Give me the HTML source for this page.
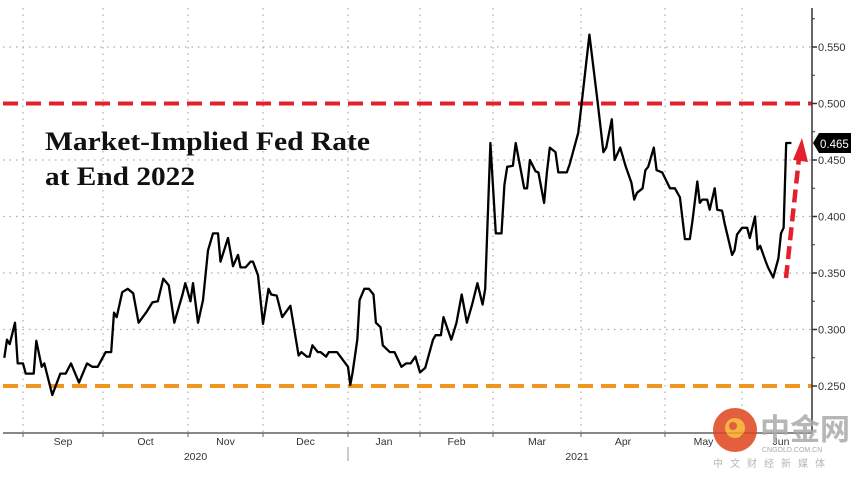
<!DOCTYPE html>
<html><head><meta charset="utf-8"><style>
html,body{margin:0;padding:0;background:#fff;}
svg{display:block;font-family:"Liberation Sans",sans-serif;}
</style></head><body>
<svg id="chart" width="866" height="479" viewBox="0 0 866 479" xmlns="http://www.w3.org/2000/svg">
<g id="grid"></g>
<g id="refs"></g>
<g id="series"></g>
<g id="axes"></g>
<text x="45" y="150" font-family="Liberation Serif,serif" font-weight="bold" font-size="26" textLength="325" lengthAdjust="spacingAndGlyphs" fill="#111">Market-Implied Fed Rate</text>
<text x="45" y="185" font-family="Liberation Serif,serif" font-weight="bold" font-size="26" textLength="150" lengthAdjust="spacingAndGlyphs" fill="#111">at End 2022</text>
<g>
<path d="M813,143 L819,133 L851,133 L851,153 L819,153 Z" fill="#000"/>
<text x="820" y="148" font-size="11.5" fill="#fff">0.465</text>
</g>
<g opacity="0.85">
<circle cx="735" cy="430" r="22" fill="#e0441c"/>
<circle cx="735" cy="428" r="10" fill="#f7a623"/>
<circle cx="733" cy="426" r="4" fill="#e0441c"/>
<text x="760" y="440" font-family="'Noto Sans CJK SC',sans-serif" font-size="30" font-weight="bold" fill="#aaa">中金网</text>
<text x="762" y="452" font-size="7" fill="#999">CNGOLD.COM.CN</text>
<text x="713" y="467" font-family="'Noto Sans CJK SC',sans-serif" font-size="10" fill="#aaa" letter-spacing="7">中文财经新媒体</text>
</g>
</svg>
<script>
const days=[-7,-6,-5,-3,-2,0,1,4,5,7,8,11,14,16,18,21,24,26,28,31,33,34,35,37,39,41,43,46,48,50,52,54,56,59,60,62,63,65,67,69,71,73,74,77,79,81,82,84,86,87,89,91,93,94,96,98,101,104,105,107,108,109,111,112,114,115,118,122,123,124,126,127,129,131,133,134,136,137,140,142,145,147,149,151,153,155,158,159,161,162,165,167,169,171,173,175,177,178,180,182,184,185,186,188,189,192,193,194,196,197,199,200,201,203,204,207,208,211,212,215,218,220,221,223,224,226,228,230,231,232,234,235,236,238,239,241,244,246,248,250,252,253,255,256,257,259,260,262,263,265,266,269,270,271,273,275,276,278,279,280,282,283,285,287,288,289,290,292];
const values=[.275,.291,.287,.306,.270,.270,.261,.261,.290,.267,.270,.242,.261,.261,.270,.253,.270,.267,.267,.280,.280,.315,.311,.333,.336,.332,.306,.316,.324,.325,.345,.339,.306,.331,.341,.325,.341,.306,.326,.370,.385,.385,.360,.381,.356,.366,.355,.355,.360,.360,.348,.305,.336,.331,.330,.311,.321,.277,.280,.276,.276,.286,.280,.280,.276,.280,.280,.267,.251,.262,.291,.326,.336,.336,.331,.306,.302,.286,.280,.280,.267,.270,.270,.276,.262,.266,.291,.295,.295,.311,.291,.306,.331,.306,.322,.341,.322,.336,.465,.385,.385,.428,.444,.445,.465,.425,.425,.450,.440,.439,.412,.439,.461,.457,.439,.439,.446,.474,.495,.561,.500,.457,.461,.486,.450,.461,.444,.430,.415,.421,.425,.441,.444,.461,.441,.439,.425,.425,.417,.380,.380,.395,.431,.412,.415,.415,.406,.425,.406,.405,.394,.366,.370,.384,.390,.390,.381,.400,.371,.374,.361,.355,.346,.363,.385,.390,.465,.465];
const yTicks=[0.250,0.300,0.350,0.400,0.450,0.500,0.550];
const monthLabels=["Sep","Oct","Nov","Dec","Jan","Feb","Mar","Apr","May","Jun"];
const monthStartDays=[0,30,61,91,122,153,181,212,242,273,303];
const yearLabels=["2020","2021"];
const refLow=0.25, refHigh=0.50;

const monthPx=[23,103,188,263,348,420,493,581,665,742,820];
function x(d){
  if(d<0) return monthPx[0]+d*(monthPx[1]-monthPx[0])/30;
  for(let i=0;i<monthStartDays.length-1;i++){
    if(d<=monthStartDays[i+1]) return monthPx[i]+(d-monthStartDays[i])/(monthStartDays[i+1]-monthStartDays[i])*(monthPx[i+1]-monthPx[i]);
  }
  return monthPx[monthPx.length-1];
}
function y(v){return 386-(v-0.25)*1130;}
const NS="http://www.w3.org/2000/svg";
function mk(t,a,p){const e=document.createElementNS(NS,t);for(const k in a)e.setAttribute(k,a[k]);p.appendChild(e);return e;}
const grid=document.getElementById('grid'),refs=document.getElementById('refs'),series=document.getElementById('series'),axes=document.getElementById('axes');
const axisX=812, axisY=433;
yTicks.forEach(v=>{
  if(v===refLow||v===refHigh) return;
  const l=mk('line',{x1:3,x2:axisX,y1:y(v),y2:y(v),stroke:'#aaa','stroke-width':1.2,'stroke-dasharray':'1.5 5'},grid);
  
  
});
for(let i=0;i<monthLabels.length;i++){
  const gx=x(monthStartDays[i]);
  const l=mk('line',{x1:gx,x2:gx,y1:8,y2:axisY,stroke:'#aaa','stroke-width':1.2,'stroke-dasharray':'1.5 5'},grid);
  
  
}
const r1=mk('line',{x1:3,x2:axisX,y1:y(refHigh),y2:y(refHigh),stroke:'#e4202a','stroke-width':4,'stroke-dasharray':'15 8'},refs);


const r2=mk('line',{x1:3,x2:axisX,y1:y(refLow),y2:y(refLow),stroke:'#f0961e','stroke-width':4,'stroke-dasharray':'15 8'},refs);


let d='';
days.forEach((dd,i)=>{d+=(i?'L':'M')+x(dd).toFixed(1)+','+y(values[i]).toFixed(1);});
const p=mk('path',{d:d,fill:'none',stroke:'#000','stroke-width':2.3,'stroke-linejoin':'round'},series);


const ar=mk('line',{x1:786,y1:278,x2:799,y2:158,stroke:'#e4202a','stroke-width':4.5,'stroke-dasharray':'13 6'},series);


const ah=mk('path',{d:'M793,160 L802,138 L808,162 Z',fill:'#e4202a'},series);


const ya=mk('line',{x1:axisX,x2:axisX,y1:8,y2:axisY,stroke:'#333','stroke-width':1.5},axes);


yTicks.forEach(v=>{
  const t=mk('line',{x1:axisX,x2:axisX+5,y1:y(v),y2:y(v),stroke:'#333','stroke-width':1.5},axes);
  
  
  const m=mk('line',{x1:axisX,x2:axisX+3,y1:y(v+0.025),y2:y(v+0.025),stroke:'#333','stroke-width':1},axes);
  
  
  const tx=mk('text',{x:axisX+6,y:y(v)+4,'font-size':11,fill:'#333'},axes);
  tx.textContent=v.toFixed(3);
  
  
});
const xa=mk('line',{x1:3,x2:axisX,y1:axisY,y2:axisY,stroke:'#888','stroke-width':2},axes);


monthLabels.forEach((m,i)=>{
  const a=x(monthStartDays[i]),b=x(monthStartDays[i+1]);
  const t=mk('line',{x1:a,x2:a,y1:axisY,y2:axisY+4,stroke:'#666','stroke-width':1},axes);
  
  
  const tx=mk('text',{x:(a+b)/2,y:axisY+12,'font-size':10.5,fill:'#333','text-anchor':'middle'},axes);
  tx.textContent=m;
  
  
});
const yd=x(monthStartDays[4]);
const sep=mk('line',{x1:yd,x2:yd,y1:axisY+14,y2:axisY+28,stroke:'#999','stroke-width':1},axes);


[[yearLabels[0],(x(monthStartDays[0])+yd)/2+10],[yearLabels[1],577]].forEach(([lab,px])=>{
  const tx=mk('text',{x:px,y:axisY+27,'font-size':10.5,fill:'#333','text-anchor':'middle'},axes);
  tx.textContent=lab;
  
  
});
</script>
</body></html>
